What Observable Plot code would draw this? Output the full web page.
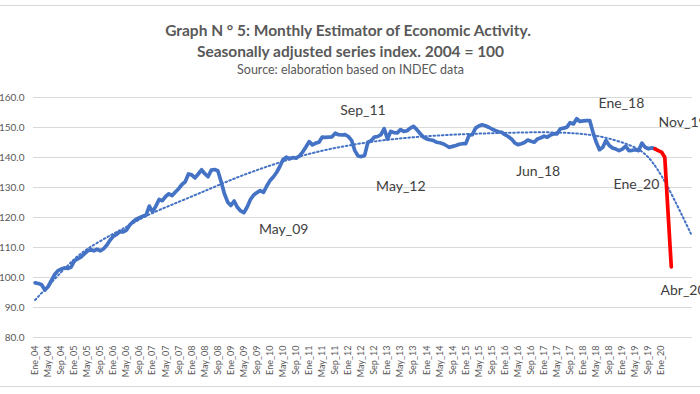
<!DOCTYPE html>
<html><head><meta charset="utf-8">
<script src="https://cdn.jsdelivr.net/npm/d3@7"></script>
<script src="https://cdn.jsdelivr.net/npm/@observablehq/plot@0.6"></script>
<style>
body{margin:0;background:#fff;}
#wrap{position:relative;width:700px;height:394px;overflow:hidden;background:#fff;}
#border{position:absolute;left:0;top:5px;width:700px;height:382px;border-top:1px solid #d9d9d9;border-bottom:1px solid #d9d9d9;pointer-events:none;box-sizing:border-box;}
</style></head><body><div id="wrap"><div id="border"></div></div>
<script>
const startYear = 2004;
const monthNames = ["Ene","Feb","Mar","Abr","May","Jun","Jul","Ago","Sep","Oct","Nov","Dic"];
// EMAE monthly, Ene_04 .. Nov_19 (blue)
const blueValues = [
  98.2, 98.0, 97.6, 95.8, 97.0, 99.0, 101.0, 102.3, 102.8, 103.2, 103.0, 103.5,
  105.5, 106.2, 106.8, 107.8, 108.8, 109.3, 108.9, 109.4, 108.9, 109.6, 110.8, 112.5,
  113.8, 114.4, 115.3, 115.2, 115.8, 117.5, 118.6, 119.4, 119.9, 120.4, 120.8, 123.8,
  121.9, 123.8, 126.0, 125.6, 127.0, 127.9, 127.3, 128.5, 129.6, 131.0, 131.9, 134.5,
  134.2, 133.2, 134.5, 135.9, 134.6, 133.6, 135.8, 136.0, 135.6, 132.0, 128.0, 125.2,
  124.0, 125.5, 123.4, 122.2, 121.6, 123.5, 126.0, 127.5, 128.3, 129.0, 128.4, 130.5,
  132.3, 133.5, 135.0, 137.0, 139.3, 140.1, 139.6, 140.0, 139.8, 140.5, 141.8, 143.5,
  145.3, 144.2, 144.8, 145.1, 146.8, 146.7, 146.8, 146.9, 148.1, 147.6, 147.5, 147.6,
  147.0, 145.7, 142.3, 140.5, 140.3, 140.7, 145.1, 145.6, 146.8, 147.0, 147.6, 149.6,
  146.2, 148.7, 148.3, 148.2, 149.3, 148.7, 148.9, 149.8, 150.4, 149.3, 148.0, 146.8,
  146.2, 145.9, 145.7, 145.1, 144.9, 144.6, 144.0, 143.4, 143.7, 144.0, 144.4, 144.6,
  144.6, 147.4, 147.6, 149.8, 150.5, 150.9, 150.6, 150.1, 149.5, 149.0, 148.6, 148.4,
  147.6, 147.0, 146.2, 144.9, 144.3, 144.6, 145.0, 145.8, 145.4, 145.1, 146.2, 146.6,
  147.1, 146.8, 147.5, 147.9, 147.9, 149.6, 149.8, 150.1, 151.6, 151.2, 152.9, 152.0,
  152.2, 152.3, 152.3, 148.4, 145.1, 142.6, 143.4, 145.7, 144.0, 143.2, 142.8, 142.3,
  142.8, 143.8, 142.3, 142.4, 142.6, 142.3, 144.8, 143.4, 142.9, 143.2, 142.9
];
// Nov_19 .. Abr_20 (red)
const redStart = 190;
const redValues = [142.9, 142.3, 141.8, 140.1, 121.8, 103.5];
// Excel polynomial trendline (dotted), read at sample months, incl. forecast
const trendMonths = [0, 10, 16, 23, 29, 36, 48, 60, 72, 84, 96, 108, 120, 132, 144, 156, 166, 174, 182, 188, 194, 201];
const trendValues = [92.5, 104, 109.5, 114, 117.5, 121.5, 127, 132.5, 137.3, 141.2, 144, 145.9, 147.1, 147.8, 148.2, 148.4, 148, 146.8, 144.2, 140, 130, 114.6];
const yTicks = [80, 90, 100, 110, 120, 130, 140, 150, 160];
const tickStep = 4, lastTick = 192, totalSlots = 202;
// annotations (label, month position, value position)
const annLabels = ["Sep_11", "May_12", "May_09", "Jun_18", "Ene_18", "Ene_20"];
const annMonth  = [100.5, 112.1, 76.2, 154.2, 179.7, 184.3];
const annValue  = [155.7, 130.3, 116.0, 135.3, 158.0, 131.0];
const annEdgeLabels = ["Nov_19", "Abr_20"];
const annEdgeMonth  = [191.1, 191.7];
const annEdgeValue  = [151.7, 95.7];
const titleLines = [
  "Graph N ° 5: Monthly Estimator of Economic Activity.",
  "Seasonally adjusted series index. 2004 = 100",
  "Source: elaboration based on INDEC data"
];

const blue = blueValues.map((v, i) => ({i, v}));
const red = redValues.map((v, k) => ({i: redStart + k, v}));
const trend = trendMonths.map((m, k) => ({i: m, v: trendValues[k]}));
const ticks = d3.range(0, lastTick + 1, tickStep).map(i => ({
  i, label: monthNames[i % 12] + "_" + String((startYear + Math.floor(i / 12)) % 100).padStart(2, "0")
}));
const ann = annLabels.map((t, k) => ({t, i: annMonth[k], v: annValue[k]}));
const annEdge = annEdgeLabels.map((t, k) => ({t, i: annEdgeMonth[k], v: annEdgeValue[k]}));

const gray = "#595959";
const blueC = "#4472C4";
const chart = Plot.plot({
  width: 700, height: 394,
  marginLeft: 33, marginRight: 8, marginTop: 97, marginBottom: 57,
  style: {fontFamily: "Lato, 'Open Sans', sans-serif", background: "transparent"},
  x: {type: "linear", domain: [-0.5, totalSlots - 0.5], axis: null},
  y: {domain: [80, 160], axis: null},
  marks: [
    Plot.gridY(yTicks, {stroke: "#d9d9d9", strokeOpacity: 1, strokeWidth: 1}),
    Plot.axisY(yTicks, {tickSize: 0, tickPadding: 9, tickFormat: d => d.toFixed(1), fontSize: 10, fill: gray, label: null}),
    Plot.line(trend, {x: "i", y: "v", curve: "natural", stroke: blueC, strokeWidth: 2, strokeDasharray: "1.6 2.6"}),
    Plot.line(blue, {x: "i", y: "v", stroke: blueC, strokeWidth: 3.7, strokeLinejoin: "round", strokeLinecap: "round"}),
    Plot.line(red, {x: "i", y: "v", stroke: "#FF0000", strokeWidth: 3.7, strokeLinejoin: "round"}),
    Plot.text(ticks, {x: "i", text: "label", frameAnchor: "bottom", rotate: -90, textAnchor: "end", lineAnchor: "middle", dy: 8, fontSize: 9, fill: gray}),
    Plot.text(ann, {x: "i", y: "v", text: "t", fontSize: 14, fill: "#404040", textAnchor: "middle"}),
    Plot.text(annEdge, {x: "i", y: "v", text: "t", fontSize: 14, fill: "#404040", textAnchor: "start"}),
    Plot.text([titleLines[0]], {text: d => d, frameAnchor: "top", lineAnchor: "middle", dy: -66, dx: -15, fontSize: 15.5, fontWeight: "bold", fill: gray}),
    Plot.text([titleLines[1]], {text: d => d, frameAnchor: "top", lineAnchor: "middle", dy: -45, dx: -12.5, fontSize: 15.5, fontWeight: "bold", fill: gray}),
    Plot.text([titleLines[2]], {text: d => d, frameAnchor: "top", lineAnchor: "middle", dy: -28, dx: -12.5, fontSize: 12.5, fill: gray})
  ]
});
document.getElementById("wrap").insertBefore(chart, document.getElementById("border"));
</script>
</body></html>
